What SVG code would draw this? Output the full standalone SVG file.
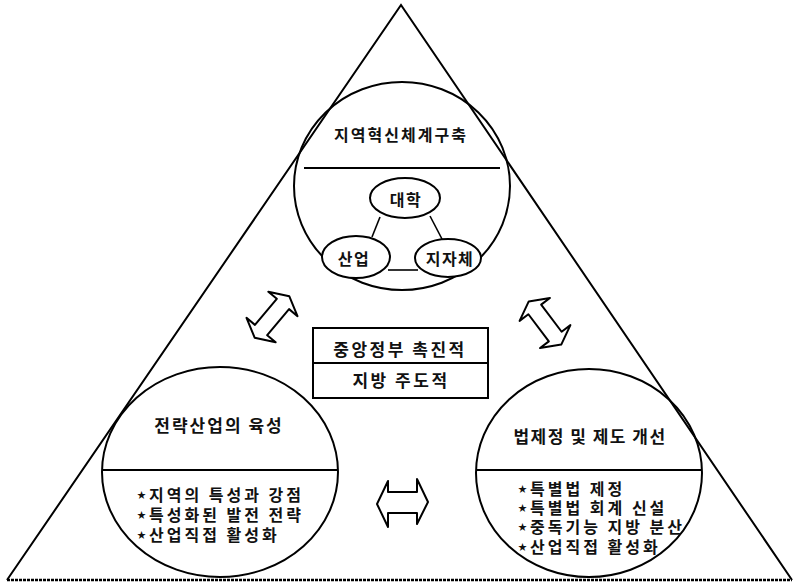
<svg xmlns="http://www.w3.org/2000/svg" width="793" height="582" viewBox="0 0 793 582">
<style>
.o{fill:none;stroke:#000;stroke-width:2}
.w{fill:#fff;stroke:#000;stroke-width:2}
.t{font-family:"Noto Sans CJK KR","Noto Sans",sans-serif;font-size:16px;font-weight:700;fill:#111;dominant-baseline:central;letter-spacing:1.5px}
.h{font-size:17px;letter-spacing:2px}
.bl{letter-spacing:3px}
.c{text-anchor:middle}
.b{font-size:9px}
.ln{stroke:#000;stroke-width:1.6;fill:none}
</style>
<defs>
<path id="dbl" d="M-27,0 L-17,-19 L-17,-8 L17,-8 L17,-19 L27,0 L17,19 L17,8 L-17,8 L-17,19 Z" fill="#fff" stroke="#000" stroke-width="2" stroke-linejoin="round"/>
</defs>
<rect width="793" height="582" fill="#fff"/>
<g id="triangle">
<polyline class="o" points="7,580 401,5 792,580"/>
<line x1="7" y1="580" x2="792" y2="580" stroke="#000" stroke-width="2.5" stroke-dasharray="3 1"/>
</g>
<g id="node-top">
<ellipse class="o" cx="402" cy="186" rx="108" ry="104"/>
<line class="o" x1="304" y1="168" x2="500" y2="168"/>
<text class="t c" x="401" y="134" style="letter-spacing:2px">지역혁신체계구축</text>
</g>
<g id="connectors">
<line class="ln" x1="380" y1="217" x2="372" y2="237"/>
<line class="ln" x1="430" y1="216" x2="442" y2="239"/>
<line class="ln" x1="388" y1="270" x2="418" y2="270"/>
<use href="#dbl" transform="translate(272,317) rotate(-50)"/>
<use href="#dbl" transform="translate(545,323) rotate(53)"/>
<path d="M377,504 L388,481 L388,492 L417,492 L417,479 L428,502 L417,524 L417,513 L388,513 L388,527 Z" fill="#fff" stroke="#000" stroke-width="2" stroke-linejoin="round"/>
</g>
<g id="node-daehak">
<ellipse class="w" cx="405" cy="198" rx="35" ry="20"/>
<text class="t c" x="406" y="199">대학</text>
</g>
<g id="node-saneop">
<ellipse class="w" cx="356" cy="257" rx="34" ry="21"/>
<text class="t c" x="354" y="258">산업</text>
</g>
<g id="node-jijache">
<ellipse class="w" cx="448" cy="258" rx="33" ry="19"/>
<text class="t c" x="450" y="258">지자체</text>
</g>
<g id="node-center">
<rect class="w" x="313" y="328" width="175" height="70"/>
<line class="o" x1="313" y1="363" x2="488" y2="363"/>
<text class="t h c" x="400" y="348" style="letter-spacing:2.5px">중앙정부 촉진적</text>
<text class="t h c" x="401" y="379" style="letter-spacing:2.5px">지방 주도적</text>
</g>
<g id="node-left">
<ellipse class="o" cx="220" cy="472" rx="118" ry="105"/>
<line class="o" x1="102" y1="470" x2="338" y2="470"/>
<text class="t h c" x="219" y="424">전략산업의 육성</text>
<text class="t bl" x="137" y="494"><tspan class="b">★</tspan>지역의 특성과 강점</text>
<text class="t bl" x="137" y="514"><tspan class="b">★</tspan>특성화된 발전 전략</text>
<text class="t bl" x="137" y="534"><tspan class="b">★</tspan>산업직접 활성화</text>
</g>
<g id="node-right">
<ellipse class="o" cx="589" cy="473" rx="113" ry="104"/>
<line class="o" x1="476" y1="470" x2="702" y2="470"/>
<text class="t h c" x="590" y="435" style="letter-spacing:1.5px">법제정 및 제도 개선</text>
<text class="t bl" x="518" y="488"><tspan class="b">★</tspan>특별법 제정</text>
<text class="t bl" x="518" y="507"><tspan class="b">★</tspan>특별법 회계 신설</text>
<text class="t bl" x="518" y="526"><tspan class="b">★</tspan>중독기능 지방 분산</text>
<text class="t bl" x="518" y="546"><tspan class="b">★</tspan>산업직접 활성화</text>
</g>
</svg>
